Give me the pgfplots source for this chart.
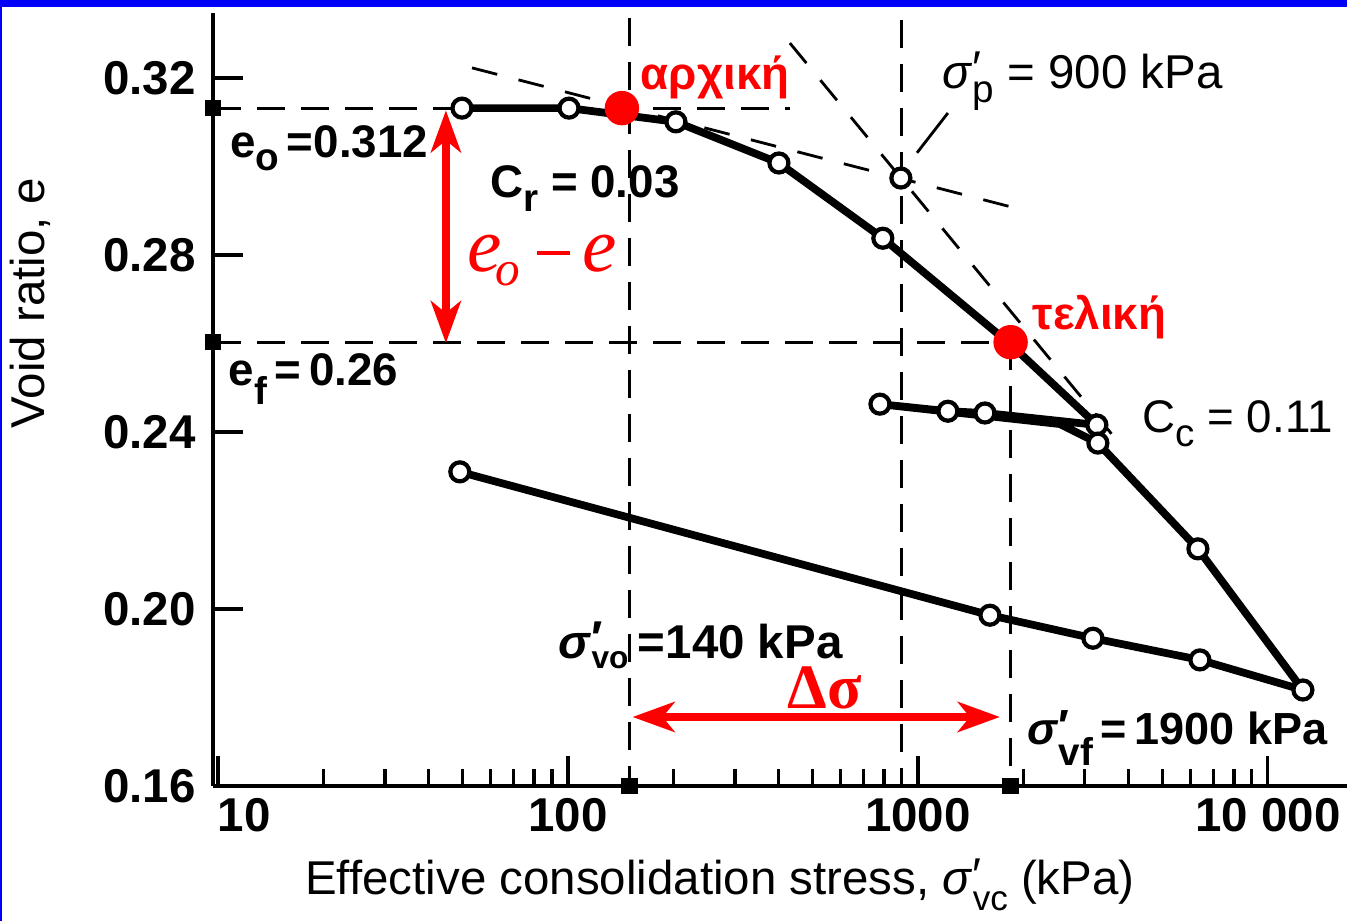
\documentclass[border=0pt]{standalone}
\usepackage{fontspec}
\setmainfont{Liberation Sans}
\newfontfamily\seriffont{Liberation Serif}
\usepackage{pgfplots}
\pgfplotsset{compat=1.18}
\usetikzlibrary{arrows.meta}

\definecolor{frameblue}{RGB}{0,0,250}
\definecolor{hlred}{RGB}{255,0,0}

\newcommand{\fsz}[1]{\fontsize{#1}{#1}\selectfont}
% lowered subscript: drop, size, text
\newcommand{\sub}[3]{\raisebox{-#1}{\fsz{#2}#3}}
% sigma prime with subscript
\newcommand{\sigp}[3]{\textit{σ}\makebox[0pt][l]{\raisebox{1pt}{′}}\sub{#1}{#2}{#3}}

\pgfplotsset{
  guide/.style={black, line width=0.9pt, dash pattern=on 2.8mm off 1.6mm},
  constr/.style={black, line width=0.8pt, dash pattern=on 2.6mm off 2.2mm},
}
\tikzset{ann/.style={anchor=base west, inner sep=0pt}}

\begin{document}
\begin{tikzpicture}
\begin{axis}[
  scale only axis,
  width=113.4mm, height=77.3mm,
  xmode=log, xmin=9.68, xmax=16830,
  ymin=0.16, ymax=0.3347,
  axis x line*=bottom, axis y line*=left,
  axis line style={line width=1.3pt},
  tick align=inside,
  xtick={10,100,1000,10000},
  xticklabels={\hphantom{10}10,100,1000,{10 000}},
  ytick={0.16,0.20,0.24,0.28,0.32},
  yticklabels={0.16,0.20,0.24,0.28,0.32},
  ticklabel style={font=\fsz{13.5}\bfseries},
  yticklabel style={xshift=-0.5mm},
  major tick length=3mm, minor tick length=1.7mm,
  tick style={black, line width=0.9pt},
  xlabel={Effective consolidation stress, \sigp{4.5pt}{10}{vc} (kPa)},
  ylabel={Void ratio, e},
  label style={font=\fsz{13.5}},
  xlabel style={at={(rel axis cs:0.447,-0.128)}, anchor=center},
  ylabel style={at={(rel axis cs:-0.161,0.625)}, anchor=center},
  clip=false,
]
\coordinate (BL) at (rel axis cs:-0.18783,-0.17464);
\coordinate (TL) at (rel axis cs:-0.18783,1.01682);
\coordinate (TR) at (rel axis cs:1,1.01682);

% guide lines
\addplot[guide] coordinates {(9.68,0.3132) (431,0.3132)};
\addplot[guide] coordinates {(9.68,0.2603) (1840,0.2603)};
\addplot[guide] coordinates {(150,0.3336) (150,0.16)};
\addplot[guide] coordinates {(900,0.3331) (900,0.16)};
\addplot[guide] coordinates {(1840,0.2603) (1840,0.16)};

% Casagrande construction
\addplot[constr] coordinates {(53.2,0.3223) (2061,0.2899)};
\addplot[constr] coordinates {(430.7,0.3279) (3776,0.2373)};
\addplot[black, line width=0.8pt] coordinates {(994,0.3031) (1218,0.3121)};

% test curve
\addplot[black, line width=2.2pt, line join=round] coordinates {
  (49.8,0.3132) (100.7,0.3132) (203.5,0.3101) (400.7,0.3008) (794,0.2838)
  (1840,0.2598) (3246,0.2416)
  (1554,0.2443) (1218,0.2447) (779,0.2463)
  (2547,0.2418) (3268,0.2375) (6310,0.2136) (12589,0.1817)
  (6393,0.1885) (3162,0.1934) (1606,0.1986) (49.1,0.2310)
};
\addplot[only marks, mark=*, mark size=0.95mm,
  mark options={fill=white, draw=black, line width=1.2pt}] coordinates {
  (49.8,0.3132) (100.7,0.3132) (203.5,0.3101) (400.7,0.3008) (794,0.2838)
  (3246,0.2416) (3268,0.2375) (6310,0.2136) (12589,0.1817)
  (779,0.2463) (1218,0.2447) (1554,0.2443)
  (6393,0.1885) (3162,0.1934) (1606,0.1986) (49.1,0.2310)
  (894,0.2974)
};

% markers on the axes
\addplot[only marks, mark=square*, mark size=0.75mm, black] coordinates {
  (9.68,0.3132) (9.68,0.2603) (150,0.16) (1840,0.16)};

% initial and final states
\addplot[only marks, mark=*, mark size=1.65mm, hlred] coordinates {
  (142.6,0.3132) (1840,0.2603)};

% red arrows
\addplot[hlred, line width=2.2pt,
  {Stealth[length=4.2mm,width=3mm,inset=1.2mm]}-{Stealth[length=4.2mm,width=3mm,inset=1.2mm]}]
  coordinates {(44.8,0.3127) (44.8,0.2601)};
\addplot[hlred, line width=2.2pt,
  {Stealth[length=4.2mm,width=3mm,inset=1.2mm]}-{Stealth[length=4.2mm,width=3mm,inset=1.2mm]}]
  coordinates {(153,0.1756) (1715,0.1756)};

% annotations
\node[ann, font=\fsz{13}\bfseries] at (axis cs:10.8,0.3021)
  {e\sub{3.7pt}{11}{o}\,=0.312};
\node[ann, font=\fsz{13}\bfseries] at (axis cs:10.7,0.2506)
  {e\sub{5.5pt}{11}{f}\,=\,0.26};
\node[ann, font=\fsz{13}\bfseries] at (axis cs:59.8,0.2931)
  {C\sub{4pt}{11}{r} = 0.03};
\node[ann, font=\fsz{13.5}] at (axis cs:1172,0.3177)
  {\sigp{4pt}{11}{p} = 900 kPa};
\node[ann, font=\fsz{13}] at (axis cs:4365,0.2398)
  {C\sub{4pt}{11}{c} = 0.11};
\node[ann, font=\fsz{13.5}\bfseries] at (axis cs:93.6,0.1889)
  {\sigp{3pt}{9}{vo}\hspace{0.2em}=140 kPa};
\node[ann, font=\fsz{12.8}\bfseries] at (axis cs:2048,0.1693)
  {\sigp{6pt}{11}{vf}\,=\,1900 kPa};
\node[ann, font=\fsz{13}\bfseries, text=hlred] at (axis cs:160.6,0.3173)
  {αρχική};
\node[ann, font=\fsz{13}\bfseries, text=hlred] at (axis cs:2119,0.2631)
  {τελική};
\node[ann, font=\seriffont\fsz{22}\itshape, text=hlred] at (axis cs:51.4,0.2762)
  {e\kern-0.08em\sub{4pt}{14}{o}\hspace{0.22em}\rule[0.22em]{0.42em}{0.05em}\hspace{0.17em}e};
\node[ann, font=\seriffont\fsz{18}\bfseries, text=hlred] at (axis cs:422.6,0.1776)
  {Δσ};
\end{axis}
\pgfresetboundingbox
\path (BL) rectangle (TR);
\fill[frameblue] (TL) rectangle ([yshift=-0.7mm]TR);
\fill[frameblue] (BL) rectangle ([xshift=0.25mm]TL);
\end{tikzpicture}
\end{document}
